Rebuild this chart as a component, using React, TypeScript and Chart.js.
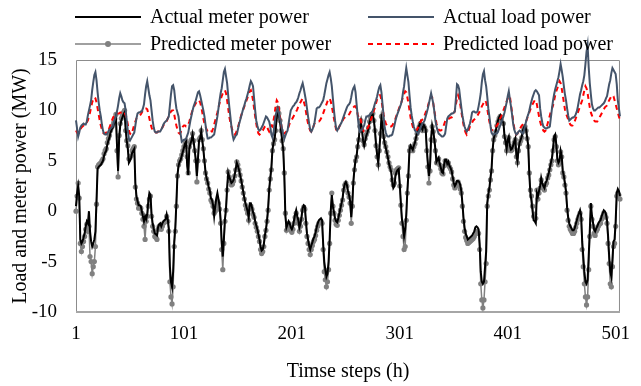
import { useEffect, useRef } from 'react';
import { Chart, registerables } from 'chart.js';

Chart.register(...registerables);

const STEPS: string[] = Array.from({ length: 505 }, (_, i) => String(i + 1));
const X_TICKS = ['1', '101', '201', '301', '401', '501'];
const Y_MIN = -10;
const Y_MAX = 15;
const Y_STEP = 5;

const ACTUAL_METER = [
  0.5, 1.8, 2.5, 1.5, -2.8, -3.2, -3.0, -2.6, -2.2, -1.5,
  -1.0, -1.2, 0.0, -2.0, -3.0, -3.5, -3.2, -2.8, -2.0, 1.0,
  4.2, 4.4, 4.5, 4.6, 4.8, 5.0, 5.5, 5.8, 6.0, 6.6,
  7.0, 7.3, 7.8, 8.1, 8.3, 8.6, 9.0, 9.4, 6.5, 4.0,
  7.3, 8.5, 9.0, 9.3, 9.6, 9.8, 8.2, 7.0, 6.2, 4.8,
  5.0, 5.3, 5.8, 6.0, 6.2, 2.8, 1.5, 1.0, 0.6, 0.6,
  0.5, 0.0, -0.5, -1.0, -0.5, -0.8, -0.3, 1.0, 1.8, 1.6,
  -0.3, -1.2, -1.7, -2.2, -2.3, -2.4, -1.6, -1.3, -1.2, -1.5,
  -1.2, -1.0, -0.9, -0.8, -0.3, -0.8, -1.7, -5.5, -7.0, -7.5,
  -6.0, -3.0, -1.6, 0.8, 3.6, 4.5, 4.9, 5.1, 5.5, 5.9,
  6.3, 6.7, 6.9, 4.5, 3.6, 6.2, 6.7, 7.0, 7.6, 6.9,
  6.0, 5.1, 3.5, 5.2, 7.0, 7.2, 7.9, 7.0, 6.1, 5.0,
  3.9, 3.3, 2.9, 2.4, 2.0, 1.3, 1.1, 0.6, -0.5, 0.5,
  1.3, 1.8, 1.2, 0.5, -0.8, -3.0, -4.5, -2.8, -0.8, 0.3,
  2.3, 3.8, 3.4, 3.1, 2.8, 2.9, 3.1, 3.6, 4.2, 4.8,
  4.5, 4.1, 3.6, 3.1, 2.5, 1.9, 1.3, 0.8, 0.4, 0.0,
  -0.6, 0.8, 0.8, 0.4, -0.1, -0.4, -1.0, -1.4, -1.8, -2.3,
  -2.8, -3.5, -3.9, -3.8, -3.3, -2.4, -1.8, -0.9, 0.3, 2.2,
  3.3, 4.3, 6.1, 6.8, 7.2, 8.1, 9.3, 10.0, 9.6, 8.9,
  8.0, 7.0, 6.1, 3.5, -0.5, -1.6, -1.3, -1.0, -1.2, -1.6,
  -1.8, -1.5, -0.9, -0.3, 0.1, -0.5, -0.9, -1.6, -1.2, -0.5,
  0.3, 0.6, 0.5, -0.9, -2.2, -2.8, -3.4, -3.8, -3.4, -3.1,
  -2.7, -2.5, -2.1, -1.6, -1.2, -0.9, -0.8, -0.7, -0.9, -3.2,
  -5.0, -5.8, -6.5, -6.2, -5.0, -2.8, 0.0, 1.6, 0.5, -0.1,
  -0.7, -1.0, -1.1, -0.7, -0.2, 0.3, 0.8, 1.3, 2.2, 2.7,
  2.9, 2.6, 2.0, 1.6, 1.0, -0.6, 0.8, 3.0, 4.2, 5.1,
  5.5, 6.5, 7.2, 8.3, 8.9, 8.0, 7.0, 6.5, 7.0, 7.5,
  7.8, 8.2, 8.8, 9.2, 9.5, 9.6, 9.0, 8.0, 6.6, 5.6,
  4.8, 6.0, 7.6, 9.2, 8.5, 7.4, 6.7, 6.3, 5.8, 5.3,
  4.7, 4.3, 3.9, 2.9, 2.3, 2.5, 3.5, 3.9, 4.1, 4.2,
  2.6, 0.8, -0.8, -1.5, -2.5, -1.8, -0.3, 2.0, 3.8, 6.1,
  6.5, 6.3, 6.1, 6.5, 6.8, 7.3, 7.8, 8.2, 8.5, 8.8,
  8.3, 8.1, 8.6, 8.4, 8.1, 6.2, 4.8, 3.5, 4.5, 7.2,
  8.5, 8.0, 7.1, 6.1, 4.9, 5.1, 5.3, 4.7, 4.3, 3.9,
  3.8, 4.6, 5.1, 5.1, 4.7, 4.9, 4.5, 4.3, 4.0, 3.4,
  2.8, 2.5, 2.7, 3.0, 3.0, 2.9, 2.6, 2.0, 0.8, -0.6,
  -1.6, -2.2, -2.5, -2.8, -2.7, -2.6, -2.5, -2.4, -2.2, -2.0,
  -1.6, -1.5, -1.6, -1.8, -3.2, -6.0, -7.0, -7.2, -7.0, -5.5,
  -4.0, 0.8, 1.7, 2.3, 3.3, 4.2, 6.1, 7.2, 7.6, 8.0,
  8.6, 9.0, 9.3, 9.5, 9.1, 8.9, 8.8, 7.5, 6.9, 6.2,
  7.1, 7.4, 6.5, 6.1, 6.2, 6.5, 6.9, 7.2, 5.6, 5.0,
  6.1, 6.8, 7.1, 7.4, 8.0, 8.3, 8.5, 8.1, 7.3, 6.5,
  3.6, 1.8, 1.0, 0.0, -0.9, -1.0, -1.2, 1.8, 1.5, 2.0,
  2.5, 3.3, 2.8, 2.5, 2.3, 2.8, 3.0, 3.4, 3.8, 4.3,
  4.8, 5.3, 6.3, 7.4, 7.6, 6.6, 5.2, 4.8, 5.0, 6.0,
  5.5, 4.0, 3.5, 2.8, 2.0, 0.4, -0.6, -1.2, -1.5, -1.7,
  -1.9, -1.9, -1.7, -1.3, -0.9, -0.5, -0.2, 0.1, -0.4, -3.0,
  -4.5, -6.0, -7.0, -7.2, -6.8, -4.5, -2.0, 0.8, -0.4, -1.1,
  -1.8, -2.0, -1.7, -1.5, -1.2, -1.0, -0.9, -0.5, -0.2, 0.1,
  0.0, -0.3, -0.9, -2.5, -4.5, -6.0, -6.5, -4.8, -3.0, -2.8,
  -1.0, 1.8, 2.2, 2.0, 1.5,
];

const PREDICTED_METER = [
  0.0, 1.5, 2.8, 1.3, -3.2, -4.0, -3.5, -3.0, -2.5, -1.8,
  -1.3, -2.0, -1.5, -4.5, -5.0, -6.2, -5.5, -5.0, -3.5, 0.7,
  4.4, 4.6, 4.7, 4.8, 5.0, 5.2, 5.7, 6.0, 6.2, 6.8,
  7.2, 7.5, 8.0, 8.3, 8.5, 8.8, 9.2, 9.6, 6.0, 3.4,
  7.5, 8.7, 9.2, 9.5, 9.8, 10.0, 8.0, 7.0, 6.5, 5.2,
  5.3, 5.5, 6.0, 6.2, 6.4, 2.4, 1.2, 0.8, 0.3, 0.4,
  0.3, -0.2, -0.8, -1.5, -2.8, -1.0, -0.5, 0.5, 1.2, 1.5,
  -0.5, -1.5, -2.0, -2.5, -2.6, -2.8, -1.8, -1.5, -1.5, -1.8,
  -1.5, -1.2, -1.1, -1.0, -0.5, -1.0, -2.0, -7.0, -8.5, -9.2,
  -7.5, -3.5, -2.0, 0.5, 3.5, 4.6, 5.0, 5.2, 5.6, 6.0,
  6.4, 6.8, 7.0, 5.4, 3.8, 6.4, 6.8, 7.1, 7.7, 7.0,
  6.0, 5.0, 2.9, 5.0, 7.1, 7.3, 8.0, 7.1, 6.2, 5.0,
  3.8, 3.2, 2.8, 2.2, 1.8, 1.1, 0.9, 0.5, -0.2, 0.0,
  0.5, 1.0, 0.8, 0.2, -1.2, -3.8, -5.8, -3.2, -1.0, 0.1,
  2.1, 3.9, 3.4, 3.0, 2.6, 2.7, 3.0, 3.5, 4.1, 4.9,
  4.6, 4.1, 3.6, 3.0, 2.4, 1.8, 1.2, 0.6, 0.2, -0.2,
  -0.9, 0.3, 0.5, 0.2, -0.3, -0.6, -1.2, -1.6, -2.0, -2.5,
  -3.0, -3.8, -4.2, -4.0, -3.5, -2.5, -1.9, -1.0, 0.1, 2.1,
  3.2, 4.1, 6.0, 6.7, 7.1, 8.0, 9.4, 10.2, 9.7, 9.0,
  8.0, 7.0, 6.2, 3.8, -0.2, -1.9, -1.5, -1.2, -1.5, -1.9,
  -2.1, -1.8, -1.2, -0.6, -0.2, -0.8, -1.2, -2.0, -1.5, -0.8,
  0.1, 0.4, 0.2, -1.2, -2.5, -3.2, -3.8, -4.3, -3.8, -3.4,
  -3.0, -2.8, -2.4, -1.9, -1.5, -1.2, -1.1, -1.0, -1.2, -3.8,
  -6.0, -6.8, -7.5, -7.0, -5.8, -3.2, -0.2, 1.8, 0.5, -0.2,
  -0.9, -1.3, -1.4, -0.9, -0.4, 0.1, 0.6, 1.1, 2.1, 2.6,
  2.8, 2.5, 1.8, 1.4, 0.8, -1.2, 0.5, 2.8, 4.1, 5.0,
  5.4, 6.4, 7.1, 8.4, 9.0, 8.0, 7.0, 6.6, 7.2, 7.6,
  7.9, 8.3, 8.9, 9.3, 9.6, 9.7, 9.0, 8.0, 6.5, 5.4,
  4.6, 6.0, 7.7, 9.4, 8.6, 7.4, 6.8, 6.4, 5.9, 5.4,
  4.8, 4.4, 4.1, 3.1, 2.6, 2.8, 3.8, 4.1, 4.2, 4.3,
  2.5, 0.6, -1.2, -2.5, -3.8, -3.5, -0.9, 1.8, 3.5, 6.0,
  6.4, 6.2, 6.0, 6.4, 6.7, 7.2, 7.7, 8.1, 8.4, 8.7,
  8.2, 8.0, 8.5, 8.3, 8.0, 6.0, 4.4, 2.8, 4.0, 7.1,
  8.4, 7.9, 7.0, 6.0, 4.8, 5.0, 5.2, 4.6, 4.2, 3.8,
  3.7, 4.5, 5.0, 5.0, 4.6, 4.8, 4.4, 4.2, 3.9, 3.2,
  2.6, 2.3, 2.5, 2.8, 2.9, 2.6, 2.2, 1.8, 0.5, -1.0,
  -2.0, -2.6, -2.9, -3.2, -3.1, -3.0, -2.9, -2.8, -2.7, -2.5,
  -2.2, -2.0, -2.1, -2.2, -3.8, -7.2, -8.8, -9.6, -8.8, -7.0,
  -5.2, 0.5, 1.5, 2.1, 3.1, 4.0, 6.0, 7.1, 7.5, 7.9,
  8.5, 8.9, 9.2, 9.4, 9.0, 8.8, 8.7, 7.4, 6.8, 6.0,
  7.0, 7.3, 6.4, 6.0, 6.1, 6.4, 6.8, 7.1, 5.4, 4.8,
  6.0, 6.7, 7.0, 7.3, 7.9, 8.2, 8.4, 8.0, 7.2, 6.4,
  3.8, 2.1, 1.5, 0.5, -0.5, -0.3, -0.7, 2.1, 1.2, 1.8,
  2.3, 3.1, 2.6, 2.3, 2.1, 2.6, 2.8, 3.3, 3.6, 4.1,
  4.6, 5.0, 6.0, 7.1, 7.4, 6.4, 5.0, 4.6, 4.8, 5.9,
  5.4, 3.8, 3.4, 2.6, 1.8, 0.1, -0.9, -1.5, -1.8, -2.0,
  -2.2, -2.2, -2.0, -1.6, -1.2, -0.8, -0.5, -0.2, -0.8, -3.8,
  -5.5, -7.2, -8.5, -9.3, -8.5, -5.8, -2.5, 0.5, -0.8, -1.5,
  -2.2, -2.4, -2.0, -1.8, -1.5, -1.3, -1.2, -0.8, -0.5, -0.2,
  -0.3, -0.6, -1.2, -3.2, -5.2, -7.2, -7.5, -5.5, -3.5, -3.2,
  -1.5, 1.5, 1.8, 1.6, 1.2,
];

const ACTUAL_LOAD = [
  9.0, 8.2, 7.4, 7.8, 8.3, 8.5, 8.6, 8.7, 8.6, 8.6,
  8.9, 9.5, 10.0, 10.5, 11.0, 12.0, 12.8, 13.5, 13.8, 13.0,
  11.8, 10.8, 10.0, 9.4, 8.6, 8.0, 7.7, 7.6, 7.6, 7.7,
  7.9, 8.1, 8.2, 8.3, 8.4, 8.8, 9.1, 9.4, 9.9, 10.5,
  11.2, 11.7, 11.4, 11.0, 10.8, 10.7, 10.0, 9.0, 8.0, 7.2,
  7.0, 7.2, 7.4, 7.6, 7.8, 8.5, 9.2, 9.7, 9.8, 9.8,
  9.9, 9.9, 10.2, 10.6, 11.6, 12.4, 12.9, 12.2, 11.5, 11.0,
  10.0, 9.0, 8.3, 7.9, 7.8, 7.8, 7.9, 7.9, 7.9, 8.1,
  8.3, 8.6, 8.8, 8.9, 9.0, 9.2, 9.4, 10.5, 11.6, 12.4,
  12.5, 12.0, 11.0, 10.2, 9.8, 9.4, 8.5, 7.6, 6.9, 7.0,
  7.1, 7.1, 7.2, 7.5, 7.8, 8.4, 9.0, 9.5, 10.0, 10.4,
  10.7, 11.0, 11.4, 11.8, 11.9, 11.5, 11.0, 10.5, 10.0, 9.4,
  8.6, 7.8, 7.2, 7.2, 7.3, 7.3, 7.4, 7.5, 7.6, 8.2,
  8.8, 9.4, 10.2, 11.0, 11.7, 12.2, 13.0, 13.8, 14.1, 13.4,
  12.7, 11.5, 10.4, 9.4, 8.4, 7.6, 7.1, 7.3, 7.5, 7.6,
  8.1, 8.6, 9.0, 9.4, 9.8, 10.2, 10.5, 10.9, 11.2, 11.6,
  12.0, 12.5, 12.9, 12.7, 12.4, 11.2, 10.0, 9.0, 8.5, 8.1,
  8.0, 8.1, 8.3, 8.5, 8.8, 9.1, 9.4, 9.3, 9.1, 8.9,
  8.4, 7.6, 7.3, 7.8, 8.7, 9.5, 10.0, 10.2, 9.7, 9.2,
  8.7, 8.1, 7.6, 7.2, 7.5, 7.8, 8.0, 8.7, 9.4, 10.0,
  10.2, 10.4, 10.5, 10.7, 10.8, 11.0, 11.3, 11.7, 12.0, 12.4,
  12.7, 12.2, 11.6, 11.0, 10.2, 9.4, 8.7, 8.1, 7.9, 8.1,
  8.4, 8.8, 9.5, 10.2, 10.3, 10.3, 10.4, 10.6, 10.8, 11.0,
  11.5, 12.1, 12.7, 13.1, 13.5, 13.8, 13.2, 12.4, 11.2, 10.0,
  9.0, 8.2, 8.0, 8.2, 8.4, 8.6, 8.8, 9.1, 9.4, 9.7,
  10.0, 10.3, 10.5, 10.6, 10.8, 11.3, 11.9, 12.2, 12.4, 11.8,
  10.6, 9.4, 8.4, 7.9, 8.0, 8.1, 8.3, 8.5, 9.0, 9.4,
  9.4, 9.5, 9.5, 9.7, 9.8, 10.0, 10.3, 10.7, 11.0, 11.4,
  11.9, 12.3, 12.5, 11.8, 10.6, 9.4, 8.3, 7.8, 7.5, 7.4,
  7.4, 7.5, 7.5, 7.6, 8.0, 8.5, 9.0, 9.4, 9.7, 10.0,
  10.3, 10.6, 11.0, 11.8, 12.4, 13.4, 14.2, 13.5, 12.8, 11.5,
  10.3, 9.5, 8.9, 8.4, 8.0, 7.9, 7.8, 7.7, 7.9, 8.2,
  8.5, 8.7, 8.8, 9.0, 9.4, 9.8, 10.2, 10.7, 11.2, 11.7,
  11.2, 10.7, 9.9, 9.0, 8.4, 8.0, 7.7, 7.6, 7.5, 7.4,
  7.4, 7.5, 7.7, 8.5, 9.2, 9.4, 9.5, 9.6, 9.7, 9.7,
  9.8, 9.9, 11.2, 12.6, 12.5, 12.1, 11.2, 10.3, 9.5, 8.9,
  8.4, 8.1, 7.9, 8.1, 8.4, 8.7, 9.2, 9.8, 9.9, 9.9,
  9.8, 9.8, 9.9, 10.4, 11.0, 11.7, 12.8, 13.6, 13.9, 13.0,
  12.4, 11.4, 10.2, 9.4, 8.5, 7.8, 7.6, 7.6, 7.7, 7.7,
  7.7, 7.9, 8.2, 8.5, 8.8, 9.1, 9.4, 9.8, 10.3, 10.8,
  11.4, 11.9, 11.1, 10.4, 9.6, 8.7, 8.1, 7.8, 7.6, 7.7,
  7.9, 8.0, 7.9, 7.8, 7.7, 8.0, 8.4, 8.9, 9.3, 9.6,
  10.0, 10.5, 10.9, 11.3, 11.6, 11.9, 12.0, 11.9, 11.7, 11.5,
  10.2, 9.4, 8.8, 8.4, 8.3, 8.2, 8.2, 8.3, 8.3, 8.4,
  9.3, 10.2, 11.0, 11.6, 12.1, 12.5, 12.9, 13.3, 13.9, 14.6,
  14.0, 13.3, 12.4, 11.6, 11.0, 10.2, 9.5, 9.0, 9.1, 9.2,
  9.3, 9.3, 9.4, 9.6, 9.9, 10.4, 11.0, 11.6, 12.0, 12.5,
  12.9, 13.5, 14.6, 15.8, 16.5, 14.3, 12.7, 11.6, 10.6, 10.2,
  10.0, 10.0, 10.1, 10.2, 10.3, 10.3, 10.4, 10.5, 10.6, 10.7,
  10.9, 11.2, 11.4, 12.0, 12.6, 13.0, 13.7, 14.2, 14.0, 13.8,
  13.6, 12.6, 11.0, 10.2, 9.4,
];

const PREDICTED_LOAD = [
  8.0, 7.8, 7.7, 7.9, 8.1, 8.3, 8.4, 8.5, 8.6, 8.7,
  8.8, 9.0, 9.4, 9.8, 10.3, 10.8, 11.1, 11.3, 11.2, 10.8,
  10.2, 9.6, 9.0, 8.5, 8.1, 7.8, 7.7, 7.7, 7.8, 7.8,
  8.0, 8.3, 8.6, 8.9, 9.2, 9.4, 9.5, 9.6, 9.7, 9.7,
  9.7, 9.8, 9.8, 9.9, 9.9, 9.8, 9.5, 9.2, 8.6, 8.0,
  7.7, 7.6, 7.8, 8.2, 8.6, 8.9, 9.2, 9.3, 9.4, 9.5,
  9.6, 9.8, 10.0, 10.1, 10.2, 10.2, 10.1, 9.7, 9.2, 8.7,
  8.3, 8.0, 7.9, 7.9, 7.8, 7.8, 7.9, 7.9, 7.9, 8.1,
  8.3, 8.5, 8.7, 8.8, 8.9, 9.2, 9.5, 9.7, 9.9, 10.0,
  10.0, 9.6, 9.0, 8.5, 8.1, 7.8, 7.7, 7.8, 8.2, 8.4,
  8.5, 8.5, 8.4, 8.4, 8.6, 8.9, 9.3, 9.7, 10.0, 10.3,
  10.5, 10.7, 10.9, 11.0, 11.0, 10.8, 10.4, 9.8, 9.2, 8.7,
  8.4, 8.1, 7.9, 7.8, 7.8, 7.9, 7.9, 8.2, 8.6, 9.0,
  9.4, 9.8, 10.3, 10.7, 11.1, 11.4, 11.7, 11.9, 12.0, 11.7,
  11.0, 10.2, 9.4, 8.8, 8.4, 8.0, 7.7, 7.6, 7.7, 8.0,
  8.3, 8.7, 9.1, 9.5, 9.8, 10.1, 10.4, 10.7, 11.0, 11.3,
  11.6, 11.9, 12.0, 11.6, 11.0, 10.2, 9.4, 8.7, 8.1, 7.7,
  7.6, 7.7, 7.9, 8.0, 8.2, 8.4, 8.5, 8.4, 8.1, 7.9,
  8.1, 8.5, 8.4, 9.0, 9.6, 10.5, 11.0, 10.8, 10.2, 9.4,
  8.7, 8.0, 7.7, 7.7, 7.8, 7.9, 8.1, 8.4, 8.7, 8.9,
  9.1, 9.3, 9.5, 9.7, 9.9, 10.1, 10.4, 10.6, 10.8, 11.0,
  11.2, 10.9, 10.5, 9.9, 9.2, 8.7, 8.3, 8.0, 7.9, 8.1,
  8.4, 8.7, 8.8, 8.8, 8.9, 8.9, 9.0, 9.2, 9.4, 9.7,
  10.0, 10.3, 10.6, 10.9, 11.1, 11.2, 10.9, 10.4, 9.8, 9.2,
  8.6, 8.1, 7.9, 8.1, 8.4, 8.6, 8.8, 9.0, 9.2, 9.3,
  9.4, 9.5, 9.5, 9.6, 9.8, 10.0, 10.2, 10.3, 10.4, 10.4,
  10.1, 9.6, 9.2, 9.3, 9.0, 8.4, 8.0, 7.9, 7.9, 8.0,
  8.2, 8.4, 8.7, 9.0, 9.3, 9.7, 10.0, 10.3, 10.7, 11.1,
  11.3, 11.5, 11.5, 11.0, 10.3, 9.6, 9.1, 8.7, 8.5, 8.4,
  8.4, 8.4, 8.4, 8.5, 8.7, 8.9, 9.2, 9.5, 9.8, 10.1,
  10.4, 10.6, 11.0, 11.3, 11.6, 11.9, 11.8, 11.3, 10.7, 10.0,
  9.3, 8.8, 8.4, 8.1, 8.0, 8.0, 8.1, 8.3, 8.5, 8.8,
  9.0, 9.1, 9.2, 9.5, 9.8, 10.1, 10.4, 10.8, 11.1, 11.4,
  11.3, 10.7, 10.0, 9.3, 8.7, 8.3, 8.1, 8.0, 8.0, 8.1,
  8.3, 8.6, 8.9, 9.1, 9.2, 9.2, 9.2, 9.3, 9.3, 9.4,
  9.6, 10.0, 10.6, 11.2, 11.5, 11.2, 10.6, 9.9, 9.2, 8.6,
  8.1, 7.8, 7.6, 7.8, 8.1, 8.4, 8.6, 8.8, 9.0, 9.1,
  9.2, 9.3, 9.5, 9.7, 9.9, 10.1, 10.4, 10.6, 10.8, 11.0,
  10.8, 10.2, 9.5, 8.9, 8.4, 8.0, 8.1, 8.3, 8.4, 8.4,
  8.5, 8.7, 9.0, 9.2, 9.4, 9.7, 10.0, 10.3, 10.6, 10.9,
  11.2, 11.4, 11.4, 10.6, 9.8, 9.0, 8.3, 7.8, 7.6, 7.7,
  7.9, 8.1, 8.3, 8.5, 8.6, 8.7, 8.8, 8.9, 9.2, 9.5,
  9.8, 10.1, 10.4, 10.6, 10.8, 11.0, 11.0, 10.6, 10.0, 9.4,
  8.9, 8.5, 8.2, 8.0, 7.9, 8.0, 8.3, 8.7, 9.1, 9.5,
  9.9, 10.2, 10.5, 11.0, 11.5, 11.9, 12.2, 12.6, 12.9, 12.7,
  12.2, 11.5, 10.8, 10.1, 9.7, 9.4, 9.1, 8.8, 8.6, 8.5,
  8.5, 8.7, 8.9, 9.2, 9.5, 9.8, 10.1, 10.4, 10.7, 11.0,
  11.5, 12.0, 12.4, 12.2, 11.7, 11.0, 10.3, 9.8, 9.5, 9.2,
  9.0, 8.9, 8.9, 8.9, 9.1, 9.3, 9.5, 9.7, 9.9, 10.1,
  10.3, 10.4, 10.5, 10.8, 11.0, 11.2, 11.4, 11.5, 11.4, 11.0,
  10.6, 10.2, 9.8, 9.4, 9.0,
];

const FONT = "'Liberation Serif', 'Times New Roman', serif";

const LEGEND_ITEMS = [
  { text: 'Actual meter power', x: 75, y: 17, color: '#000000', dash: [] as number[], width: 2, dot: false },
  { text: 'Actual load power', x: 368, y: 17, color: '#44546a', dash: [] as number[], width: 2, dot: false },
  { text: 'Predicted meter power', x: 75, y: 44, color: '#808080', dash: [] as number[], width: 1.5, dot: true },
  { text: 'Predicted load power', x: 368, y: 44, color: '#ff0000', dash: [5, 4], width: 2, dot: false },
];

const framePlugin = {
  id: 'frameAndLegend',
  beforeDatasetsDraw(chart: any) {
    const { ctx, chartArea } = chart;
    const { left, right, top, bottom } = chartArea;
    ctx.save();
    ctx.strokeStyle = '#8c8c8c';
    ctx.lineWidth = 1;
    ctx.beginPath();
    ctx.moveTo(left + 0.5, bottom);
    ctx.lineTo(left + 0.5, top + 0.5);
    ctx.lineTo(right - 0.5, top + 0.5);
    ctx.lineTo(right - 0.5, bottom);
    ctx.stroke();
    ctx.strokeStyle = '#a6a6a6';
    ctx.lineWidth = 2;
    ctx.beginPath();
    ctx.moveTo(left, bottom);
    ctx.lineTo(right, bottom);
    ctx.stroke();
    ctx.restore();
  },
  afterDraw(chart: any) {
    const { ctx } = chart;
    ctx.save();
    ctx.font = `20px ${FONT}`;
    ctx.textBaseline = 'middle';
    ctx.fillStyle = '#000';
    for (const it of LEGEND_ITEMS) {
      ctx.strokeStyle = it.color;
      ctx.lineWidth = it.width;
      ctx.setLineDash(it.dash);
      ctx.beginPath();
      ctx.moveTo(it.x, it.y);
      ctx.lineTo(it.x + 66, it.y);
      ctx.stroke();
      ctx.setLineDash([]);
      if (it.dot) {
        ctx.fillStyle = it.color;
        ctx.beginPath();
        ctx.arc(it.x + 33, it.y, 3, 0, Math.PI * 2);
        ctx.fill();
        ctx.fillStyle = '#000';
      }
      ctx.fillText(it.text, it.x + 75, it.y + 1);
    }
    ctx.restore();
  },
};

export default function App() {
  const ref = useRef<HTMLCanvasElement | null>(null);
  useEffect(() => {
    document.body.style.margin = '0';
    const canvas = ref.current;
    if (!canvas) return;
    const chart = new Chart(canvas, {
      type: 'line',
      data: {
        labels: STEPS,
        datasets: [
          {
            label: 'Actual load power',
            data: ACTUAL_LOAD,
            borderColor: '#44546a',
            borderWidth: 2,
            pointRadius: 0,
            tension: 0,
            clip: false as any,
          },
          {
            label: 'Predicted load power',
            data: PREDICTED_LOAD,
            borderColor: '#ff0000',
            borderWidth: 2,
            borderDash: [5, 4],
            pointRadius: 0,
            tension: 0,
          },
          {
            label: 'Actual meter power',
            data: ACTUAL_METER,
            borderColor: '#000000',
            borderWidth: 2,
            pointRadius: 0,
            tension: 0,
          },
          {
            label: 'Predicted meter power',
            data: PREDICTED_METER,
            borderColor: '#808080',
            backgroundColor: '#808080',
            borderWidth: 1.5,
            pointRadius: 2.6,
            pointBorderWidth: 0,
            pointBackgroundColor: '#808080',
            tension: 0,
          },
        ],
      },
      options: {
        animation: false,
        responsive: false,
        maintainAspectRatio: false,
        layout: { padding: { top: 60, right: 11, left: 0, bottom: 0 } },
        plugins: {
          legend: { display: false },
          tooltip: { enabled: false },
        },
        scales: {
          x: {
            type: 'category',
            offset: false,
            grid: { display: false, drawTicks: false },
            border: { display: false },
            ticks: {
              autoSkip: false,
              maxRotation: 0,
              minRotation: 0,
              padding: 11,
              color: '#000',
              font: { family: FONT, size: 19 },
              callback: (_v: any, i: number) => (X_TICKS.includes(STEPS[i]) ? STEPS[i] : null),
            },
            title: {
              display: true,
              text: 'Timse steps (h)',
              color: '#000',
              font: { family: FONT, size: 20 },
              padding: { top: 0, bottom: 2 },
            },
            afterFit: (s: any) => {
              s.height = 74;
            },
          },
          y: {
            min: Y_MIN,
            max: Y_MAX,
            grid: { display: false, drawTicks: false },
            border: { display: false },
            ticks: {
              stepSize: Y_STEP,
              padding: 19,
              color: '#000',
              font: { family: FONT, size: 19 },
            },
            title: {
              display: true,
              text: 'Load and meter power (MW)',
              color: '#000',
              font: { family: FONT, size: 20 },
              padding: { top: 9, bottom: 0 },
            },
            afterFit: (s: any) => {
              s.width = 76;
            },
          },
        },
      },
      plugins: [framePlugin],
    });
    return () => chart.destroy();
  }, []);
  return (
    <div style={{ width: 641, height: 386 }}>
      <canvas ref={ref} width={641} height={386} style={{ display: 'block' }} />
    </div>
  );
}
